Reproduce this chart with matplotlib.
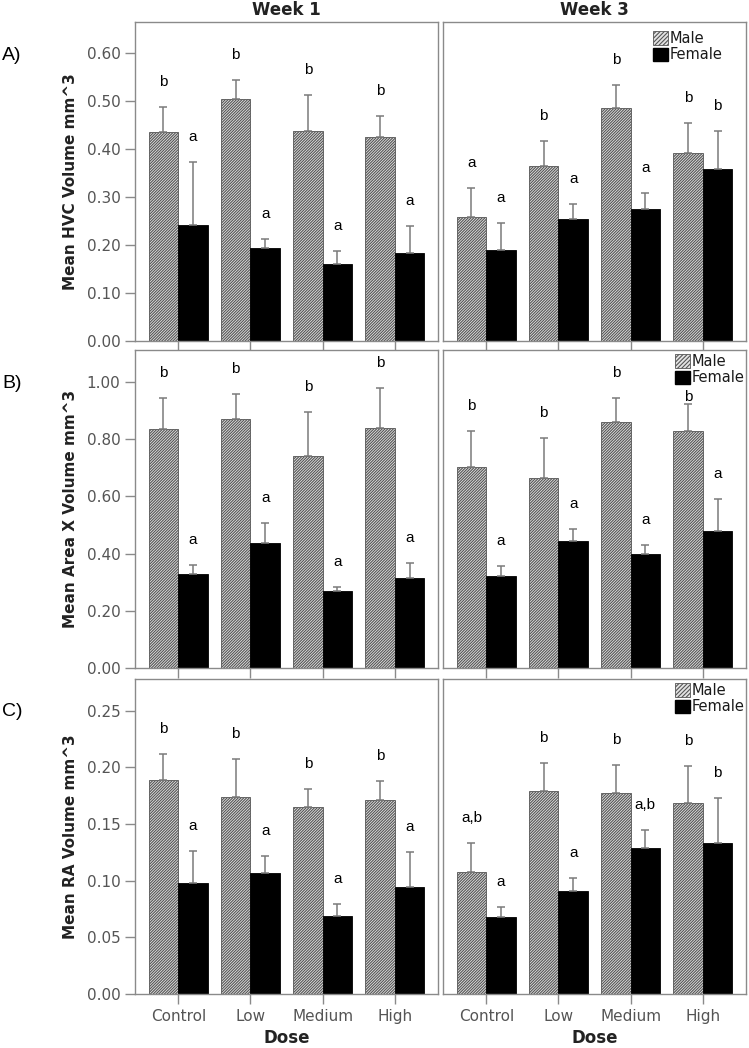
import numpy as np
import matplotlib.pyplot as plt
from matplotlib.patches import Patch

plt.rcParams["hatch.linewidth"] = 0.8

doses = ["Control", "Low", "Medium", "High"]
weeks = ["Week 1", "Week 3"]
ylabels = ["Mean HVC Volume mm^3", "Mean Area X Volume mm^3", "Mean RA Volume mm^3"]
panel_tags = ["A)", "B)", "C)"]

# means and upper error (SE)
hvc_w1_male = [0.436, 0.504, 0.437, 0.426]
hvc_w1_male_se = [0.052, 0.040, 0.076, 0.043]
hvc_w1_female = [0.242, 0.193, 0.160, 0.183]
hvc_w1_female_se = [0.132, 0.019, 0.027, 0.057]
hvc_w3_male = [0.258, 0.365, 0.485, 0.391]
hvc_w3_male_se = [0.060, 0.052, 0.048, 0.063]
hvc_w3_female = [0.190, 0.254, 0.276, 0.358]
hvc_w3_female_se = [0.055, 0.032, 0.033, 0.080]

ax_w1_male = [0.834, 0.869, 0.740, 0.839]
ax_w1_male_se = [0.108, 0.087, 0.155, 0.140]
ax_w1_female = [0.330, 0.436, 0.269, 0.313]
ax_w1_female_se = [0.031, 0.070, 0.015, 0.055]
ax_w3_male = [0.703, 0.665, 0.859, 0.829]
ax_w3_male_se = [0.126, 0.140, 0.083, 0.093]
ax_w3_female = [0.322, 0.443, 0.400, 0.480]
ax_w3_female_se = [0.033, 0.042, 0.029, 0.110]

ra_w1_male = [0.189, 0.174, 0.165, 0.171]
ra_w1_male_se = [0.023, 0.033, 0.016, 0.017]
ra_w1_female = [0.098, 0.107, 0.069, 0.094]
ra_w1_female_se = [0.028, 0.015, 0.010, 0.031]
ra_w3_male = [0.108, 0.179, 0.177, 0.169]
ra_w3_male_se = [0.025, 0.025, 0.025, 0.032]
ra_w3_female = [0.068, 0.091, 0.129, 0.133]
ra_w3_female_se = [0.009, 0.011, 0.016, 0.040]

# significance letters
hvc_w1_male_let = ["b", "b", "b", "b"]
hvc_w1_female_let = ["a", "a", "a", "a"]
hvc_w3_male_let = ["a", "b", "b", "b"]
hvc_w3_female_let = ["a", "a", "a", "b"]
ax_w1_male_let = ["b", "b", "b", "b"]
ax_w1_female_let = ["a", "a", "a", "a"]
ax_w3_male_let = ["b", "b", "b", "b"]
ax_w3_female_let = ["a", "a", "a", "a"]
ra_w1_male_let = ["b", "b", "b", "b"]
ra_w1_female_let = ["a", "a", "a", "a"]
ra_w3_male_let = ["a,b", "b", "b", "b"]
ra_w3_female_let = ["a", "a", "a,b", "b"]

rows = [
    [(hvc_w1_male, hvc_w1_male_se, hvc_w1_female, hvc_w1_female_se, hvc_w1_male_let, hvc_w1_female_let),
     (hvc_w3_male, hvc_w3_male_se, hvc_w3_female, hvc_w3_female_se, hvc_w3_male_let, hvc_w3_female_let)],
    [(ax_w1_male, ax_w1_male_se, ax_w1_female, ax_w1_female_se, ax_w1_male_let, ax_w1_female_let),
     (ax_w3_male, ax_w3_male_se, ax_w3_female, ax_w3_female_se, ax_w3_male_let, ax_w3_female_let)],
    [(ra_w1_male, ra_w1_male_se, ra_w1_female, ra_w1_female_se, ra_w1_male_let, ra_w1_female_let),
     (ra_w3_male, ra_w3_male_se, ra_w3_female, ra_w3_female_se, ra_w3_male_let, ra_w3_female_let)],
]

ylims = [0.665, 1.111, 0.278]
yticks = [np.arange(0, 0.61, 0.1), np.arange(0, 1.01, 0.2), np.arange(0, 0.251, 0.05)]

W, H = 749, 1048
fig = plt.figure(figsize=(W / 100, H / 100), dpi=100)

# panel boxes in pixels: (top, bottom)
row_px = [(22, 341), (350, 668), (679, 994)]
col_px = [(135, 438), (443, 746)]
legend_px = [(653, 31), (675, 354), (675, 683)]   # upper-left of legend in each right panel

frame_col = "#8a8a8a"
text_col = "#555555"
letter_font = "Liberation Sans"
male_hatch = "/" * 12
x = np.arange(len(doses))
bw = 0.41

for r in range(3):
    top, bot = row_px[r]
    for c in range(2):
        left, right = col_px[c]
        ax = fig.add_axes([left / W, 1 - bot / H, (right - left) / W, (bot - top) / H])
        male, male_se, female, female_se, mlet, flet = rows[r][c]

        ax.bar(x - bw / 2, male, bw, color="#e4e4e4", edgecolor="#555555",
               hatch=male_hatch, linewidth=0.6, zorder=2)
        ax.bar(x + bw / 2, female, bw, color="black", edgecolor="black", linewidth=0.6, zorder=2)
        ax.errorbar(x - bw / 2, male, yerr=[np.zeros(4), male_se], fmt="none",
                    ecolor="#7a7a7a", elinewidth=1.1, capsize=3, capthick=1.1, zorder=3)
        ax.errorbar(x + bw / 2, female, yerr=[np.zeros(4), female_se], fmt="none",
                    ecolor="#7a7a7a", elinewidth=1.1, capsize=3, capthick=1.1, zorder=3)

        for i in range(4):
            # the one letter that sits tucked under the legend in panel B, week 3
            moff = 5 if (r == 1 and c == 1 and i == 3) else 18
            ax.annotate(mlet[i], (x[i] - bw / 2, male[i] + male_se[i]), xytext=(0, moff),
                        textcoords="offset points", ha="center", va="center",
                        fontsize=11, family=letter_font)
            ax.annotate(flet[i], (x[i] + bw / 2, female[i] + female_se[i]), xytext=(0, 18),
                        textcoords="offset points", ha="center", va="center",
                        fontsize=11, family=letter_font)

        ax.set_xlim(-0.6, 3.6)
        ax.set_ylim(0, ylims[r])
        ax.set_xticks(x)
        for sp in ax.spines.values():
            sp.set_color(frame_col)
            sp.set_linewidth(1.0)
        ax.tick_params(axis="both", direction="out", length=7, width=1.0, color=frame_col,
                       labelcolor=text_col, labelsize=11)

        if r == 2:
            ax.set_xticklabels(doses)
            ax.set_xlabel("Dose", fontsize=12, fontweight="bold", color="#222222", labelpad=4)
        else:
            ax.set_xticklabels([])

        if c == 0:
            ax.set_yticks(yticks[r])
            ax.set_yticklabels([f"{v:.2f}" for v in yticks[r]])
            ax.set_ylabel(ylabels[r], fontsize=11, fontweight="bold", color="#222222", labelpad=6)
        else:
            ax.set_yticks([])
            lx, ly = legend_px[r]
            handles = [Patch(facecolor="#e4e4e4", edgecolor="#555555", hatch="/" * 8, linewidth=0.6),
                       Patch(facecolor="black", edgecolor="black")]
            ax.legend(handles, ["Male", "Female"], loc="upper left",
                      bbox_to_anchor=((lx - left) / (right - left), (bot - ly) / (bot - top)),
                      frameon=False, borderpad=0, borderaxespad=0,
                      prop={"size": 10.5},
                      handlelength=1.0, handleheight=1.0, handletextpad=0.15,
                      labelspacing=0.1, labelcolor="#1a1a1a")

        if r == 0:
            ax.set_title(weeks[c], fontsize=12, fontweight="bold", color="#222222", pad=5)

    fig.text(2 / W, 1 - (top + 33) / H, panel_tags[r], fontsize=14, family=letter_font,
             ha="left", va="center")

fig.savefig("out.png", dpi=100)
